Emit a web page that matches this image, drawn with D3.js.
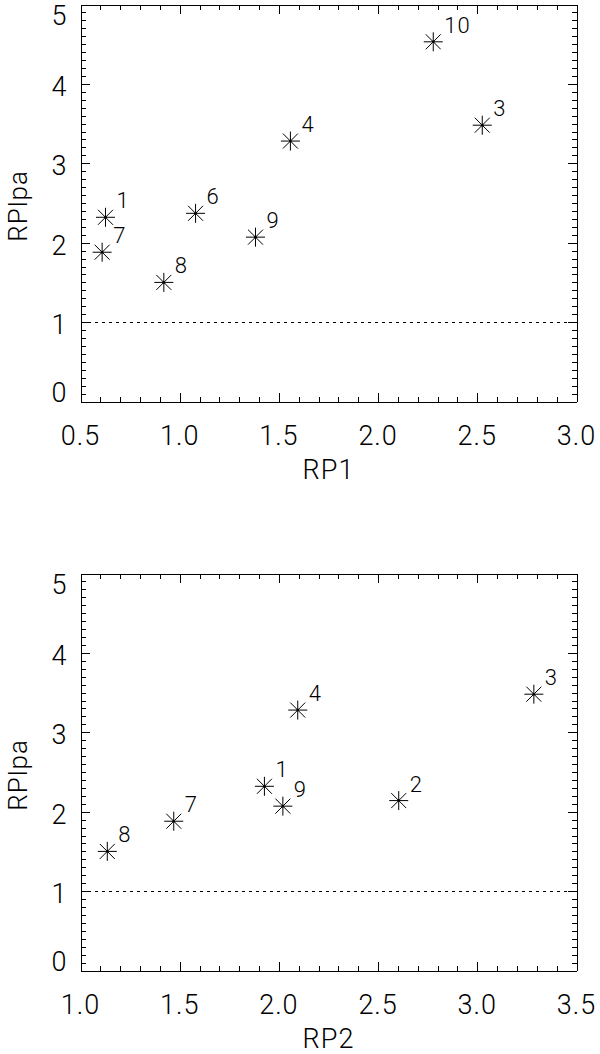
<!DOCTYPE html>
<html>
<head>
<meta charset="utf-8">
<script src="https://cdn.jsdelivr.net/npm/d3@7"></script>
<style>
  body { margin: 0; background: #fff; }
  text { font-family: Roboto, "DejaVu Sans", sans-serif; font-weight: 300; fill: #000; }
  .domain, .tick line { stroke: #000; stroke-width: 1; shape-rendering: crispEdges; }
</style>
</head>
<body>
<div id="chart"></div>
<script>
// point ids and their values (null = point falls outside that panel)
var ids   = [1, 2, 3, 4, 6, 7, 8, 9, 10];
var rp1   = [0.626, null, 2.525, 1.558, 1.08, 0.609, 0.92, 1.382, 2.278];
var rp2   = [1.927, 2.604, 3.285, 2.095, null, 1.47, 1.135, 2.02, null];
var rplpa = [2.32, 2.14, 3.48, 3.28, 2.37, 1.88, 1.50, 2.07, 4.53];

// tick labels
var rp1Ticks = [0.5, 1.0, 1.5, 2.0, 2.5, 3.0];
var rp2Ticks = [1.0, 1.5, 2.0, 2.5, 3.0, 3.5];
var yTicks = [0, 1, 2, 3, 4, 5];
var refLine = 1;

var svgWidth = 600;
var svgHeight = 1054;

var margin = { left: 80, right: 23 };
var width = svgWidth - margin.left - margin.right - 1;   // 496
var height = 397;

var svg = d3.select("#chart")
  .append("svg")
  .attr("width", svgWidth)
  .attr("height", svgHeight);

var panels = [
  { xs: rp1, ticks: rp1Ticks, title: "RP1", top: 4 },
  { xs: rp2, ticks: rp2Ticks, title: "RP2", top: 573 }
];

// minor tick values between the first and last major tick
function minorTicks(lo, hi, step) {
  var n = Math.round((hi - lo) / step);
  return d3.range(n + 1).map(i => +(lo + i * step).toFixed(2));
}

// asterisk like the plot symbol: horizontal, vertical and two diagonals
function starPath(r, d) {
  return "M" + (-r) + ",0H" + r +
    "M0," + (-r) + "V" + r +
    "M" + (-d) + "," + (-d) + "L" + d + "," + d +
    "M" + (-d) + "," + d + "L" + d + "," + (-d);
}

panels.forEach(function(p) {
  var g = svg.append("g")
    .attr("transform", `translate(${margin.left + 0.5}, ${p.top + 0.5})`);

  var lo = p.ticks[0], hi = p.ticks[p.ticks.length - 1];
  var x = d3.scaleLinear().domain([lo, hi]).range([0, width]);
  var y = d3.scaleLinear().domain([0, 5]).range([height, 0]);

  var xMinor = minorTicks(lo, hi, 0.1);
  var yMinor = minorTicks(0, 5, 0.1);

  // minor ticks on all four sides (inward)
  g.append("g").attr("transform", `translate(0, ${height})`)
    .call(d3.axisBottom(x).tickValues(xMinor).tickSize(-5).tickSizeOuter(0).tickFormat(""));
  g.append("g")
    .call(d3.axisTop(x).tickValues(xMinor).tickSize(-5).tickSizeOuter(0).tickFormat(""));
  g.append("g")
    .call(d3.axisLeft(y).tickValues(yMinor).tickSize(-5).tickSizeOuter(0).tickFormat(""));
  g.append("g").attr("transform", `translate(${width}, 0)`)
    .call(d3.axisRight(y).tickValues(yMinor).tickSize(-5).tickSizeOuter(0).tickFormat(""));

  // major ticks
  g.append("g").attr("transform", `translate(0, ${height})`)
    .call(d3.axisBottom(x).tickValues(p.ticks).tickSize(-9).tickSizeOuter(0).tickFormat(""));
  g.append("g")
    .call(d3.axisTop(x).tickValues(p.ticks).tickSize(-9).tickSizeOuter(0).tickFormat(""));
  g.append("g")
    .call(d3.axisLeft(y).tickValues(yTicks).tickSize(-9).tickSizeOuter(0).tickFormat(""));
  g.append("g").attr("transform", `translate(${width}, 0)`)
    .call(d3.axisRight(y).tickValues(yTicks).tickSize(-9).tickSizeOuter(0).tickFormat(""));

  // x tick labels
  g.append("g").selectAll("text")
    .data(p.ticks)
    .enter()
    .append("text")
    .attr("x", d => x(d))
    .attr("y", height + 43)
    .attr("text-anchor", "middle")
    .attr("font-size", "27px")
    .attr("letter-spacing", "1px")
    .text(d => d3.format(".1f")(d));

  // y tick labels (end labels pushed inside the frame)
  g.append("g").selectAll("text")
    .data(yTicks)
    .enter()
    .append("text")
    .attr("x", -14)
    .attr("y", function(d) {
      if (d === yTicks[0]) return y(d);
      if (d === yTicks[yTicks.length - 1]) return y(d) + 20;
      return y(d) + 12;
    })
    .attr("text-anchor", "end")
    .attr("font-size", "27px")
    .text(d => d);

  // axis titles
  g.append("text")
    .attr("x", width / 2)
    .attr("y", height + 77)
    .attr("text-anchor", "middle")
    .attr("font-size", "27px")
    .attr("letter-spacing", "1px")
    .text(p.title);

  g.append("text")
    .attr("transform", `translate(${-54}, ${height / 2 + 3}) rotate(-90)`)
    .attr("text-anchor", "middle")
    .attr("font-size", "26px")
    .attr("letter-spacing", "1px")
    .text("RPlpa");

  // dotted reference line
  g.append("line")
    .attr("x1", 0)
    .attr("x2", width)
    .attr("y1", y(refLine))
    .attr("y2", y(refLine))
    .attr("stroke", "#000")
    .attr("stroke-width", 1)
    .attr("stroke-dasharray", "3,4")
    .attr("shape-rendering", "crispEdges");

  // points
  var pts = ids.map((id, i) => ({ id: id, x: p.xs[i], y: rplpa[i] }))
    .filter(d => d.x !== null);

  var ptGroup = g.append("g").selectAll("g")
    .data(pts)
    .enter()
    .append("g")
    .attr("transform", d => `translate(${x(d.x)}, ${y(d.y)})`);

  ptGroup.append("path")
    .attr("d", starPath(9.5, 7.5))
    .attr("stroke", "#000")
    .attr("stroke-width", 1)
    .attr("fill", "none");

  ptGroup.append("circle")
    .attr("r", 1.3)
    .attr("fill", "#000");

  ptGroup.append("text")
    .attr("x", 11)
    .attr("y", -9)
    .attr("font-size", "22px")
    .attr("letter-spacing", "1px")
    .text(d => d.id);
});
</script>
</body>
</html>
